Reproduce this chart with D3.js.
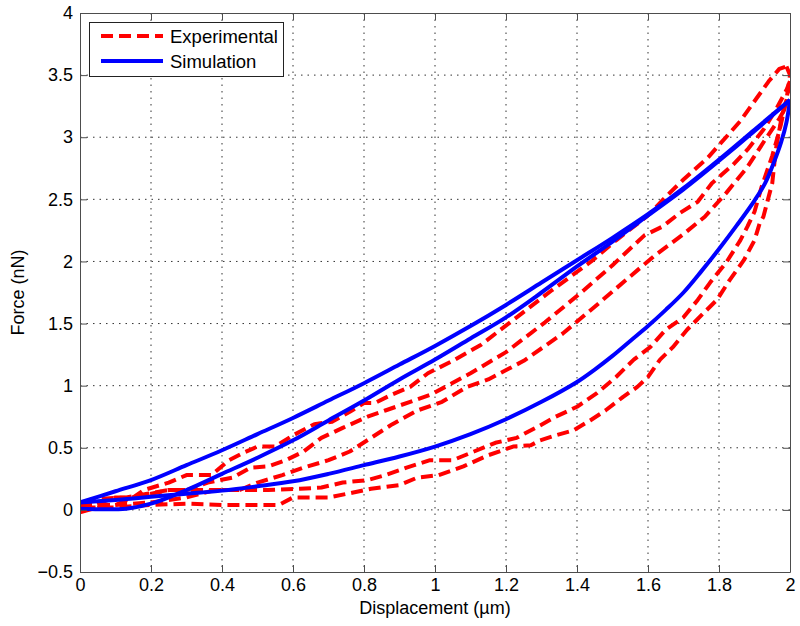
<!DOCTYPE html>
<html>
<head>
<meta charset="utf-8">
<script src="https://cdn.jsdelivr.net/npm/d3@7"></script>
<style>
  html, body { margin: 0; padding: 0; background: #fff; }
  svg text { font-family: "Liberation Sans", Arial, Helvetica, sans-serif; }
</style>
</head>
<body>
<div id="chart"></div>
<script>
// ---------------- data ----------------
const xTicks = [0, 0.2, 0.4, 0.6, 0.8, 1, 1.2, 1.4, 1.6, 1.8, 2];
const xTickLabels = ["0", "0.2", "0.4", "0.6", "0.8", "1", "1.2", "1.4", "1.6", "1.8", "2"];
const yTicks = [-0.5, 0, 0.5, 1, 1.5, 2, 2.5, 3, 3.5, 4];
const yTickLabels = ["\u22120.5", "0", "0.5", "1", "1.5", "2", "2.5", "3", "3.5", "4"];

const seriesNames = ["Experimental", "Simulation"];

// Experimental (red dashed)
const expLoad1 = [[0,0.0],[0.05,0.05],[0.1,0.1],[0.15,0.1],[0.18,0.16],[0.25,0.22],[0.3,0.28],[0.37,0.28],[0.42,0.4],[0.46,0.46],[0.5,0.51],[0.55,0.51],[0.6,0.6],[0.66,0.69],[0.71,0.71],[0.76,0.79],[0.8,0.86],[0.83,0.86],[0.88,0.93],[0.93,0.99],[0.98,1.10],[1.05,1.2],[1.13,1.33],[1.23,1.55],[1.33,1.77],[1.44,2.0],[1.51,2.17],[1.6,2.37],[1.65,2.52],[1.70,2.66],[1.77,2.84],[1.86,3.13],[1.94,3.45],[1.97,3.55],[1.99,3.57]];
const expUnload1 = [[1.99,3.57],[2.0,3.5],[1.99,3.3],[1.977,3.17],[1.96,2.9],[1.95,2.63],[1.925,2.36],[1.915,2.31],[1.90,2.17],[1.87,2.01],[1.83,1.85],[1.794,1.69],[1.755,1.58],[1.71,1.45],[1.67,1.31],[1.634,1.21],[1.60,1.07],[1.57,0.99],[1.53,0.91],[1.48,0.80],[1.437,0.72],[1.39,0.64],[1.34,0.60],[1.296,0.56],[1.27,0.52],[1.22,0.51],[1.15,0.44],[1.08,0.35],[1.01,0.28],[0.95,0.26],[0.90,0.20],[0.82,0.17],[0.77,0.14],[0.70,0.10],[0.6,0.10],[0.56,0.04],[0.4,0.04],[0.3,0.05],[0.2,0.04],[0.1,0.02],[0,0.02]];
const expLoad2 = [[0,0.04],[0.1,0.04],[0.15,0.1],[0.25,0.16],[0.3,0.16],[0.36,0.22],[0.43,0.26],[0.48,0.34],[0.53,0.35],[0.58,0.40],[0.63,0.47],[0.68,0.58],[0.74,0.66],[0.81,0.75],[0.86,0.80],[0.93,0.87],[0.99,0.93],[1.1,1.10],[1.2,1.27],[1.31,1.51],[1.42,1.77],[1.5,1.97],[1.59,2.21],[1.64,2.28],[1.69,2.39],[1.74,2.48],[1.78,2.63],[1.84,2.78],[1.88,2.9],[1.925,3.06],[1.96,3.22],[1.99,3.38],[2.0,3.45]];
const expUnload2 = [[2.0,3.45],[1.99,3.3],[1.97,3.05],[1.95,2.85],[1.92,2.6],[1.90,2.4],[1.88,2.28],[1.86,2.17],[1.82,1.99],[1.775,1.83],[1.74,1.69],[1.70,1.55],[1.65,1.45],[1.606,1.31],[1.56,1.21],[1.51,1.07],[1.456,0.94],[1.40,0.83],[1.34,0.75],[1.296,0.68],[1.23,0.58],[1.17,0.54],[1.11,0.47],[1.05,0.40],[0.986,0.40],[0.92,0.34],[0.86,0.28],[0.81,0.24],[0.74,0.22],[0.68,0.18],[0.62,0.17],[0.53,0.16],[0.43,0.16],[0.35,0.16],[0.25,0.16],[0.19,0.13],[0.13,0.10],[0.06,0.09],[0,0.05]];
const expLoad3 = [[0,-0.02],[0.05,0.02],[0.1,0.04],[0.2,0.06],[0.3,0.10],[0.38,0.16],[0.45,0.16],[0.5,0.22],[0.57,0.28],[0.63,0.34],[0.7,0.40],[0.76,0.47],[0.82,0.58],[0.88,0.69],[0.95,0.80],[1.02,0.87],[1.09,0.99],[1.15,1.05],[1.25,1.2],[1.36,1.42],[1.46,1.66],[1.55,1.88],[1.62,2.05],[1.7,2.22],[1.76,2.36],[1.82,2.55],[1.88,2.76],[1.93,2.98],[1.97,3.15],[2.0,3.3]];

// Simulation (blue solid)
const simLoad1 = [[0,0.06],[0.1,0.15],[0.2,0.24],[0.3,0.36],[0.4,0.48],[0.5,0.61],[0.6,0.74],[0.7,0.88],[0.8,1.02],[0.9,1.17],[1.0,1.32],[1.1,1.48],[1.2,1.65],[1.3,1.83],[1.4,2.01],[1.5,2.19],[1.6,2.38],[1.7,2.59],[1.8,2.82],[1.9,3.06],[2.0,3.3]];
const simUnload = [[2.0,3.3],[1.99,3.12],[1.975,2.96],[1.955,2.8],[1.93,2.63],[1.9,2.49],[1.85,2.29],[1.8,2.1],[1.75,1.92],[1.7,1.75],[1.65,1.61],[1.6,1.48],[1.55,1.36],[1.5,1.24],[1.45,1.13],[1.4,1.03],[1.3,0.87],[1.2,0.73],[1.1,0.61],[1.0,0.51],[0.9,0.43],[0.8,0.36],[0.7,0.29],[0.6,0.23],[0.5,0.19],[0.4,0.155],[0.3,0.13],[0.2,0.105],[0.1,0.08],[0,0.06]];
const simLoad2 = [[0,0.01],[0.13,0.01],[0.2,0.05],[0.3,0.16],[0.4,0.29],[0.5,0.42],[0.6,0.56],[0.7,0.72],[0.8,0.88],[0.9,1.05],[1.0,1.21],[1.1,1.38],[1.2,1.55],[1.3,1.75],[1.4,1.96],[1.5,2.16],[1.6,2.37],[1.7,2.58],[1.8,2.81],[1.9,3.05],[2.0,3.3]];

const experimental = [expLoad1, expUnload1, expLoad2, expUnload2, expLoad3];
const simulation = [simLoad1, simUnload, simLoad2];

// ---------------- layout ----------------
const W = 800, H = 626;
const plot = { left: 80, right: 790, top: 13, bottom: 572 };

const svg = d3.select("#chart").append("svg")
  .attr("width", W).attr("height", H)
  .style("display", "block");

const x = d3.scaleLinear().domain([0, 2]).range([plot.left, plot.right]);
const y = d3.scaleLinear().domain([-0.5, 4]).range([plot.bottom, plot.top]);

const axisColor = "#4d4d4d";
const gridColor = "#333";

// grid
const grid = svg.append("g");
grid.selectAll("line.gx").data(xTicks.slice(1, -1)).enter().append("line")
  .attr("x1", d => x(d)).attr("x2", d => x(d))
  .attr("y1", plot.top).attr("y2", plot.bottom)
  .attr("stroke", gridColor).attr("stroke-width", 1)
  .attr("stroke-dasharray", "1.5,5");
grid.selectAll("line.gy").data(yTicks.slice(1, -1)).enter().append("line")
  .attr("y1", d => y(d)).attr("y2", d => y(d))
  .attr("x1", plot.left).attr("x2", plot.right)
  .attr("stroke", gridColor).attr("stroke-width", 1)
  .attr("stroke-dasharray", "1.5,5");

// clip
svg.append("clipPath").attr("id", "clip").append("rect")
  .attr("x", plot.left).attr("y", plot.top)
  .attr("width", plot.right - plot.left).attr("height", plot.bottom - plot.top);

const expLine = d3.line().x(d => x(d[0])).y(d => y(d[1]));
const simLine = d3.line().x(d => x(d[0])).y(d => y(d[1])).curve(d3.curveCatmullRom.alpha(0.5));

const lines = svg.append("g").attr("clip-path", "url(#clip)");
lines.selectAll("path.exp").data(experimental).enter().append("path")
  .attr("d", expLine)
  .attr("fill", "none").attr("stroke", "#ff0000")
  .attr("stroke-width", 4).attr("stroke-dasharray", "12,6")
  .attr("stroke-linejoin", "round");
lines.selectAll("path.sim").data(simulation).enter().append("path")
  .attr("d", simLine)
  .attr("fill", "none").attr("stroke", "#0000ff")
  .attr("stroke-width", 4)
  .attr("stroke-linejoin", "round");

// axes (box with inward ticks)
const tickLen = 7;
const axBottom = d3.axisBottom(x).tickValues(xTicks).tickFormat((d, i) => xTickLabels[i]).tickSizeInner(-tickLen).tickSizeOuter(0).tickPadding(6);
const axTop = d3.axisTop(x).tickValues(xTicks).tickFormat("").tickSizeInner(-tickLen).tickSizeOuter(0);
const axLeft = d3.axisLeft(y).tickValues(yTicks).tickFormat((d, i) => yTickLabels[i]).tickSizeInner(-tickLen).tickSizeOuter(0).tickPadding(7);
const axRight = d3.axisRight(y).tickValues(yTicks).tickFormat("").tickSizeInner(-tickLen).tickSizeOuter(0);

function style(g) {
  g.selectAll("path.domain").attr("stroke", axisColor).attr("stroke-width", 1);
  g.selectAll(".tick line").attr("stroke", axisColor).attr("stroke-width", 1);
  g.selectAll(".tick text").attr("fill", "#000").style("font-size", "18px")
    .style("font-family", "'Liberation Sans', Arial, sans-serif");
}
svg.append("g").attr("transform", `translate(0,${plot.bottom})`).call(axBottom).call(style);
svg.append("g").attr("transform", `translate(0,${plot.top})`).call(axTop).call(style);
svg.append("g").attr("transform", `translate(${plot.left},0)`).call(axLeft).call(style);
svg.append("g").attr("transform", `translate(${plot.right},0)`).call(axRight).call(style);

// axis labels
svg.append("text")
  .attr("x", (plot.left + plot.right) / 2).attr("y", 614)
  .attr("text-anchor", "middle").style("font-size", "18px").attr("fill", "#000")
  .text("Displacement (\u00b5m)");
svg.append("text")
  .attr("transform", `translate(24,${(plot.top + plot.bottom) / 2}) rotate(-90)`)
  .attr("text-anchor", "middle").style("font-size", "18px").attr("fill", "#000")
  .text("Force (nN)");

// legend
const lg = svg.append("g");
lg.append("rect").attr("x", 89.5).attr("y", 22.5).attr("width", 194).attr("height", 54)
  .attr("fill", "#fff").attr("stroke", "#222").attr("stroke-width", 1);
const legendItems = [
  { name: seriesNames[0], color: "#ff0000", dash: "12,6", y: 36 },
  { name: seriesNames[1], color: "#0000ff", dash: null, y: 61 }
];
legendItems.forEach(it => {
  lg.append("line").attr("x1", 101).attr("x2", 163).attr("y1", it.y).attr("y2", it.y)
    .attr("stroke", it.color).attr("stroke-width", 4)
    .attr("stroke-dasharray", it.dash);
  lg.append("text").attr("x", 170).attr("y", it.y + 6.5)
    .style("font-size", "18.5px").attr("fill", "#000").text(it.name);
});
</script>
</body>
</html>
